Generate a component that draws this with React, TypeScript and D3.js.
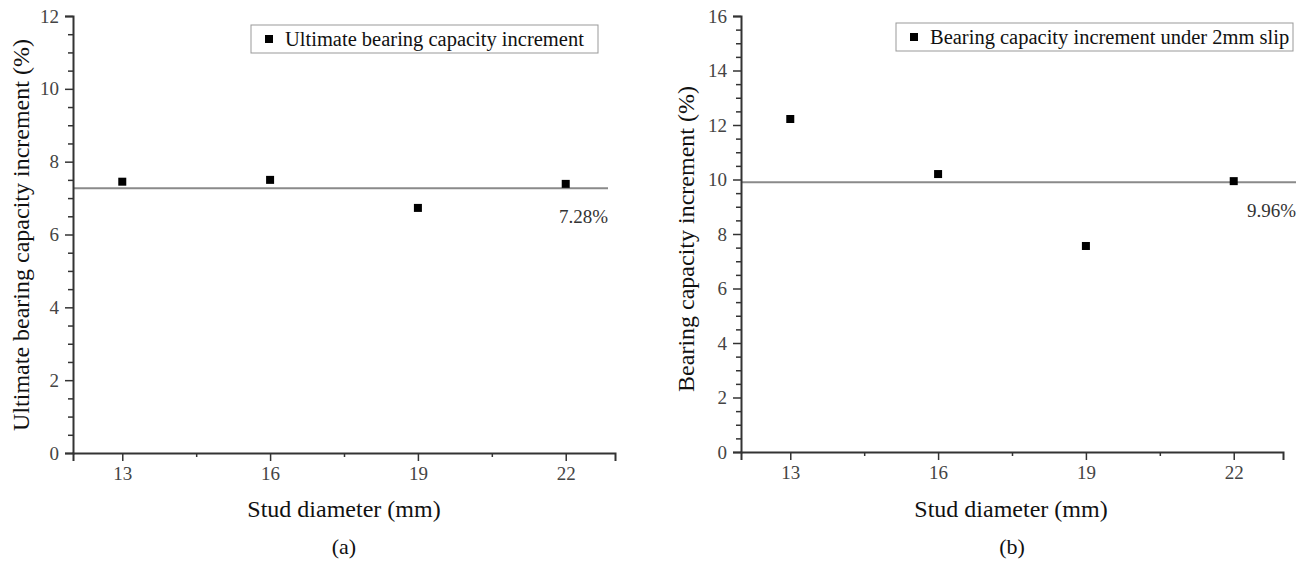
import React, { useEffect, useRef } from "react";
import * as d3 from "d3";

const diameters = [13, 16, 19, 22];
const xTicks = [13, 16, 19, 22];
const xMinorTicks = [14.5, 17.5, 20.5];

const ultimateIncrement = [7.45, 7.5, 6.73, 7.39];
const ultimateMean = 7.27;
const ultimateMeanLabel = "7.28%";
const yTicksA = [0, 2, 4, 6, 8, 10, 12];

const slipIncrement = [12.22, 10.2, 7.56, 9.94];
const slipMean = 9.9;
const slipMeanLabel = "9.96%";
const yTicksB = [0, 2, 4, 6, 8, 10, 12, 14, 16];

const FONT = "Liberation Serif, Times New Roman, serif";

type Panel = {
  left: number;
  right: number;
  top: number;
  bottom: number;
  yMax: number;
  yTicks: number[];
  values: number[];
  mean: number;
  meanEnd: number;
  meanLabel: string;
  legendText: string;
  legendBox: [number, number, number, number];
  legendFont: number;
  yTitle: string;
  yTitleX: number;
  yTitleY: number;
  xTitleX: number;
  tag: string;
  tagX: number;
};

const panels: Panel[] = [
  {
    left: 73, right: 615, top: 16, bottom: 453,
    yMax: 12, yTicks: yTicksA,
    values: ultimateIncrement, mean: ultimateMean, meanEnd: 608, meanLabel: ultimateMeanLabel,
    legendText: "Ultimate bearing capacity increment",
    legendBox: [251, 25, 347, 28], legendFont: 20.5,
    yTitle: "Ultimate bearing capacity increment (%)",
    yTitleX: 29, yTitleY: 235,
    xTitleX: 344, tag: "(a)", tagX: 344,
  },
  {
    left: 741, right: 1283, top: 16, bottom: 452,
    yMax: 16, yTicks: yTicksB,
    values: slipIncrement, mean: slipMean, meanEnd: 1296, meanLabel: slipMeanLabel,
    legendText: "Bearing capacity increment under 2mm slip",
    legendBox: [896, 23, 397, 28], legendFont: 20.5,
    yTitle: "Bearing capacity increment (%)",
    yTitleX: 694, yTitleY: 239,
    xTitleX: 1011, tag: "(b)", tagX: 1012,
  },
];

function PanelView({ p }: { p: Panel }) {
  const gx = useRef<SVGGElement>(null);
  const gy = useRef<SVGGElement>(null);
  const gxm = useRef<SVGGElement>(null);
  const gym = useRef<SVGGElement>(null);

  const x = d3.scaleLinear().domain([12, 23]).range([p.left, p.right]);
  const y = d3.scaleLinear().domain([0, p.yMax]).range([p.bottom, p.top]);
  const yMinor = d3.range(0, p.yMax + 0.001, 0.5).filter((v) => v % 2 !== 0);

  useEffect(() => {
    const style = (g: d3.Selection<SVGGElement, unknown, null, undefined>) => {
      g.attr("font-family", FONT).attr("font-size", 19);
      g.selectAll("path.domain").attr("stroke", "#333").attr("stroke-width", 2);
      g.selectAll(".tick line").attr("stroke", "#333").attr("stroke-width", 1.5);
      g.selectAll(".tick text").attr("fill", "#444");
    };
    const xa = d3.select(gx.current!);
    xa.call(d3.axisBottom(x).tickValues(xTicks).tickSize(8).tickPadding(6).tickFormat(d3.format("d")) as any);
    style(xa);
    const ya = d3.select(gy.current!);
    ya.call(d3.axisLeft(y).tickValues(p.yTicks).tickSize(8).tickPadding(6).tickFormat(d3.format("d")) as any);
    style(ya);
    const xm = d3.select(gxm.current!);
    xm.call(d3.axisBottom(x).tickValues(xMinorTicks).tickSize(4).tickFormat(() => "") as any);
    xm.select("path.domain").remove();
    xm.selectAll(".tick line").attr("stroke", "#333").attr("stroke-width", 1.5);
    const ym = d3.select(gym.current!);
    ym.call(d3.axisLeft(y).tickValues(yMinor).tickSize(5).tickFormat(() => "") as any);
    ym.select("path.domain").remove();
    ym.selectAll(".tick line").attr("stroke", "#333").attr("stroke-width", 1.5);
  }, []);

  const [lx, ly, lw, lh] = p.legendBox;
  const ms = 8;

  return (
    <g>
      <line
        x1={p.left}
        x2={p.meanEnd}
        y1={y(p.mean)}
        y2={y(p.mean)}
        stroke="#8a8a8a"
        strokeWidth={1.8}
      />
      {p.values.map((v, i) => (
        <rect
          key={i}
          x={x(diameters[i]) - ms / 2}
          y={y(v) - ms / 2}
          width={ms}
          height={ms}
          fill="#000"
        />
      ))}
      <text
        x={p.meanEnd}
        y={y(p.mean) + 35}
        textAnchor="end"
        fontFamily={FONT}
        fontSize={19}
        fill="#333"
      >
        {p.meanLabel}
      </text>
      <g ref={gym} transform={`translate(${p.left},0)`} />
      <g ref={gxm} transform={`translate(0,${p.bottom})`} />
      <g ref={gy} transform={`translate(${p.left},0)`} />
      <g ref={gx} transform={`translate(0,${p.bottom})`} />
      <rect x={lx} y={ly} width={lw} height={lh} fill="#fff" stroke="#999" strokeWidth={1} />
      <rect x={lx + 14} y={ly + lh / 2 - 4} width={8} height={8} fill="#000" />
      <text
        x={lx + 34}
        y={ly + lh / 2 + 7}
        fontFamily={FONT}
        fontSize={p.legendFont}
        fill="#111"
      >
        {p.legendText}
      </text>
      <text
        transform={`translate(${p.yTitleX},${p.yTitleY}) rotate(-90)`}
        textAnchor="middle"
        fontFamily={FONT}
        fontSize={24}
        fill="#111"
      >
        {p.yTitle}
      </text>
      <text x={p.xTitleX} y={517} textAnchor="middle" fontFamily={FONT} fontSize={24} fill="#111">
        Stud diameter (mm)
      </text>
      <text x={p.tagX} y={554} textAnchor="middle" fontFamily={FONT} fontSize={22} fill="#111">
        {p.tag}
      </text>
    </g>
  );
}

export default function App() {
  return (
    <div style={{ position: "absolute", left: 0, top: 0, width: 1305, height: 563, background: "#fff" }}>
      <svg width={1305} height={563} style={{ display: "block" }}>
        <rect x={0} y={0} width={1305} height={563} fill="#fff" />
        {panels.map((p, i) => (
          <PanelView key={i} p={p} />
        ))}
      </svg>
    </div>
  );
}
